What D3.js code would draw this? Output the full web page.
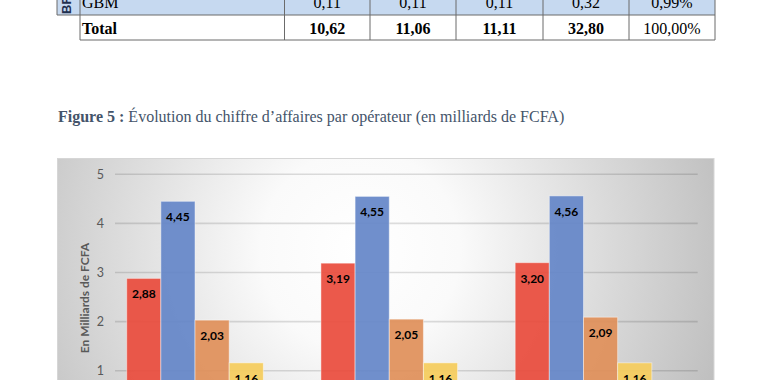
<!DOCTYPE html>
<html><head><meta charset="utf-8">
<script src="https://cdn.jsdelivr.net/npm/d3@7"></script>
<style>html,body{margin:0;padding:0;background:#fff;}svg{display:block;}</style>
</head><body>
<script>
// ---- data ----
const categories = ["T1", "T2", "T3"];
const seriesNames = ["Opérateur 1", "Opérateur 2", "Opérateur 3", "Opérateur 4", "GBM"];
const serie1 = [2.88, 3.19, 3.20];
const serie2 = [4.45, 4.55, 4.56];
const serie3 = [2.03, 2.05, 2.09];
const serie4 = [1.16, 1.16, 1.16];
const serie5 = [0.11, 0.11, 0.11];
const yTicks = [0, 1, 2, 3, 4, 5];
const seriesColors = ["#E94C3D", "#6586C8", "#E0905A", "#F5CC5C", "#A5A5A5"];
// table fragment above the figure
const gbmRow = ["GBM", "0,11", "0,11", "0,11", "0,32", "0,99%"];
const totalRow = ["Total", "10,62", "11,06", "11,11", "32,80", "100,00%"];
const caption = ["Figure 5 :", " Évolution du chiffre d’affaires par opérateur (en milliards de FCFA)"];
const yTitle = "En Milliards de FCFA";

const values = [serie1, serie2, serie3, serie4, serie5];
const fmt = v => d3.format(".2f")(v).replace(".", ",");

const W = 758, H = 380;
const svg = d3.select("body").append("svg").attr("width", W).attr("height", H);

// ---- table fragment ----
const colX = [80, 284.5, 370, 456, 543, 629, 715];
const tbl = svg.append("g");
tbl.append("rect").attr("x", 57).attr("y", -12).attr("width", 658).attr("height", 27).attr("fill", "#C6D9F0");
tbl.append("rect").attr("x", 80).attr("y", 15).attr("width", 635).attr("height", 25).attr("fill", "#fff");
const lineC = "#6b6b6b";
colX.forEach((x) => {
  tbl.append("line").attr("x1", x).attr("x2", x).attr("y1", -12).attr("y2", 40)
    .attr("stroke", lineC).attr("stroke-width", 1);
});
tbl.append("line").attr("x1", 57).attr("x2", 57).attr("y1", -12).attr("y2", 15).attr("stroke", lineC);
tbl.append("line").attr("x1", 57).attr("x2", 715).attr("y1", 15).attr("y2", 15).attr("stroke", lineC);
tbl.append("line").attr("x1", 80).attr("x2", 715).attr("y1", 40).attr("y2", 40).attr("stroke", lineC);
tbl.append("text").attr("transform", "translate(71,14) rotate(-90)")
  .attr("font-family", "Liberation Sans, Arial, sans-serif").attr("font-weight", "bold").attr("font-size", 13)
  .attr("fill", "#1F2F4F").text("BF");
function rowText(row, y, boldAll) {
  row.forEach((t, i) => {
    const isFirst = i === 0;
    tbl.append("text")
      .attr("x", isFirst ? 82 : (colX[i] + colX[i + 1]) / 2)
      .attr("y", y)
      .attr("text-anchor", isFirst ? "start" : "middle")
      .attr("font-family", "Liberation Serif, Times New Roman, serif")
      .attr("font-size", 16)
      .attr("font-weight", boldAll && i < 5 ? "bold" : "normal")
      .attr("fill", "#000").text(t);
  });
}
rowText(gbmRow, 8, false);
rowText(totalRow, 34, true);

// ---- caption ----
const cap = svg.append("text").attr("x", 58).attr("y", 122)
  .attr("font-family", "Liberation Serif, Times New Roman, serif").attr("font-size", 16).attr("fill", "#44546A");
cap.append("tspan").attr("font-weight", "bold").text(caption[0]);
cap.append("tspan").text(caption[1]);

// ---- chart panel ----
const defs = svg.append("defs");
const grad = defs.append("radialGradient").attr("id", "bg").attr("gradientUnits", "userSpaceOnUse")
  .attr("cx", 360).attr("cy", 250).attr("r", 400);
grad.append("stop").attr("offset", "0").attr("stop-color", "#ffffff");
grad.append("stop").attr("offset", "0.25").attr("stop-color", "#fafafa");
grad.append("stop").attr("offset", "1").attr("stop-color", "#bababa");

svg.append("rect").attr("x", 57.5).attr("y", 158.5).attr("width", 656.5).attr("height", 320)
  .attr("fill", "url(#bg)").attr("stroke", "#d6d6d6").attr("stroke-width", 1);

const x0 = d3.scaleBand().domain(categories).range([115, 697.7]).padding(0);
const x1 = d3.scaleBand().domain(seriesNames).range([11.7, 182.5]).padding(0);
const y = d3.scaleLinear().domain([0, 5]).range([419.8, 174.3]);

// gridlines
svg.append("g").selectAll("line").data(yTicks).join("line")
  .attr("x1", 115).attr("x2", 697.7)
  .attr("y1", d => y(d)).attr("y2", d => y(d))
  .attr("stroke", "rgba(0,0,0,0.13)").attr("stroke-width", 1.6);

// y axis labels
const yAxis = d3.axisLeft(y).tickValues(yTicks).tickFormat(d3.format("d")).tickSize(0).tickPadding(0);
const ga = svg.append("g").attr("transform", "translate(104,0)").call(yAxis);
ga.select(".domain").remove();
ga.selectAll("text").attr("font-family", "Lato, Open Sans, sans-serif").attr("font-size", 12.5).attr("fill", "#595959");

svg.append("text").attr("transform", "translate(89,298) rotate(-90)").attr("text-anchor", "middle")
  .attr("font-family", "Lato, Open Sans, sans-serif").attr("font-size", 12).attr("font-weight", "bold")
  .attr("fill", "#595959").text(yTitle);

// bars
const flat = [];
categories.forEach((c, ci) => seriesNames.forEach((s, si) => flat.push({c, s, si, v: values[si][ci]})));
const bars = svg.append("g");
bars.selectAll("rect").data(flat).join("rect")
  .attr("x", d => x0(d.c) + x1(d.s))
  .attr("y", d => y(d.v))
  .attr("width", x1.bandwidth())
  .attr("height", d => y(0) - y(d.v))
  .attr("fill", d => seriesColors[d.si]).attr("fill-opacity", 0.93)
  .attr("stroke", "rgba(255,255,255,0.45)").attr("stroke-width", 1);

bars.selectAll("text").data(flat).join("text")
  .attr("x", d => x0(d.c) + x1(d.s) + x1.bandwidth() / 2)
  .attr("y", d => y(d.v) + 20)
  .attr("text-anchor", "middle")
  .attr("font-family", "Lato, Open Sans, sans-serif").attr("font-size", 12).attr("font-weight", "bold")
  .attr("fill", "#000").text(d => fmt(d.v));
</script>
</body></html>
